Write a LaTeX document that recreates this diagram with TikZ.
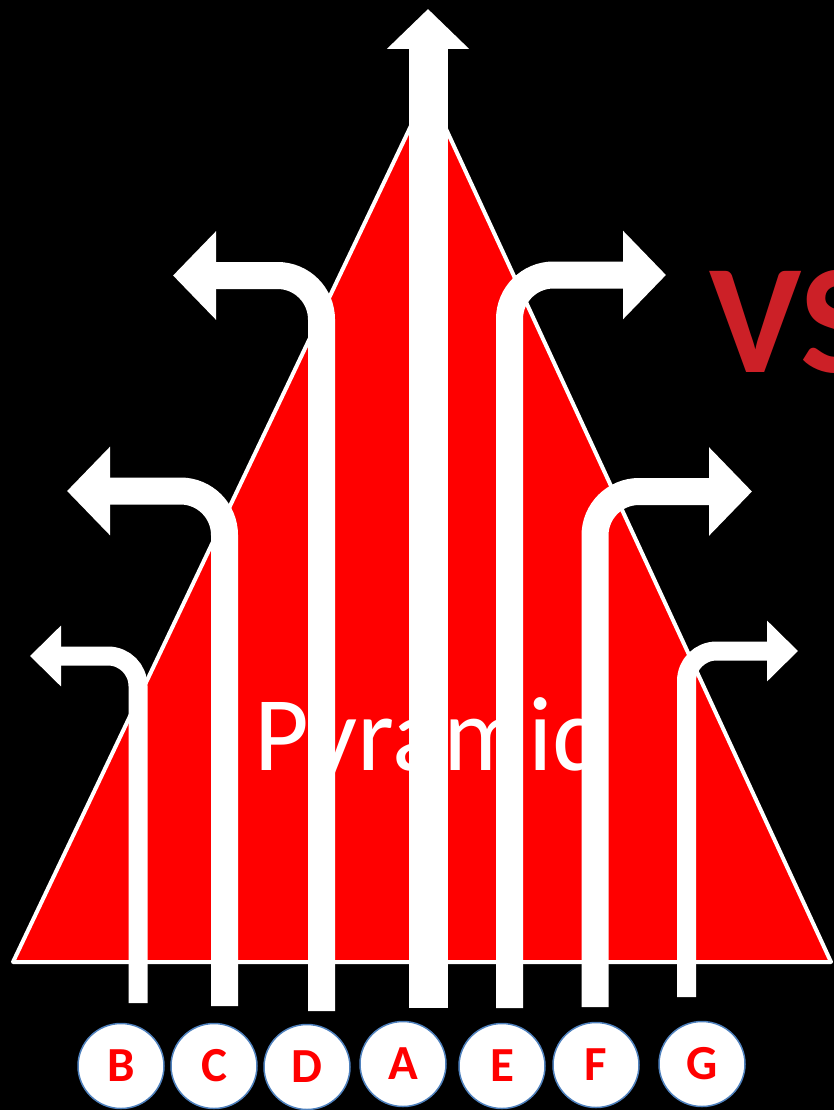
\documentclass[tikz,border=0pt]{standalone}
\usepackage{fontspec}
\setmainfont{Carlito}
\usetikzlibrary{arrows.meta, shapes.geometric}
\definecolor{pyrred}{RGB}{255,0,0}
\definecolor{vsred}{RGB}{204,32,39}
\definecolor{ringblue}{RGB}{79,129,189}
\tikzset{
  stream/.style={draw=white, line width=27pt, rounded corners=44pt,
    -{Triangle[length=43pt, width=86pt]}},
  thinstream/.style={draw=white, line width=19pt, rounded corners=30pt,
    -{Triangle[length=31pt, width=59pt]}},
  mainstream/.style={draw=white, line width=39pt,
    -{Triangle[length=40pt, width=80pt]}},
  badge/.style={ellipse, draw=ringblue, fill=white, line width=1.5pt,
    minimum width=86pt, minimum height=85pt, inner sep=0pt,
    font=\fontsize{49}{49}\selectfont\bfseries, text=pyrred}
}

\begin{document}
\begin{tikzpicture}[x=1pt, y=-1pt]

\useasboundingbox (0,0) rectangle (834,1110);
\fill[black] (0,0) rectangle (834,1110);

%--- PYRAMID ---
\coordinate (L) at (13,962);
\coordinate (T) at (428,90);
\coordinate (R) at (831,962);
\draw[fill=pyrred, draw=white, line width=4pt, line join=round] (L) -- (T) -- (R) -- cycle;
\node[anchor=base west, inner sep=0pt, text=white,
  font=\fontsize{106}{106}\selectfont] (word) at (254,770) {Pyramid};

%--- STREAMS ---
% feet of the bars
\coordinate (Bfoot) at (138,1003);
\coordinate (Cfoot) at (224.5,1006);
\coordinate (Dfoot) at (321.5,1011);
\coordinate (Afoot) at (428,1008);
\coordinate (Efoot) at (509.5,1008);
\coordinate (Ffoot) at (595,1007);
\coordinate (Gfoot) at (686.5,997);
% arrow tips
\coordinate (Btip) at (30,656);
\coordinate (Ctip) at (67,491);
\coordinate (Dtip) at (173,275.5);
\coordinate (Atip) at (428,9);
\coordinate (Etip) at (666,275);
\coordinate (Ftip) at (752,491.5);
\coordinate (Gtip) at (798,651);

\draw[mainstream] (Afoot) -- (Atip);
\foreach \s in {C,D,E,F} { \draw[stream] (\s foot) |- (\s tip); }
\foreach \s in {B,G} { \draw[thinstream] (\s foot) |- (\s tip); }

%--- LABELS ---
\foreach \s/\x/\y in {B/121/1066, C/214/1066, D/307/1067, A/403/1064,
                      E/502/1066, F/596/1065, G/702/1064} {
  \node[badge] (c\s) at (\x,\y) {\s};
}

% VS, cut by the right edge as in the original
\node[anchor=base west, inner sep=0pt, text=vsred,
  font=\fontsize{156}{156}\selectfont\bfseries] (vs) at (709,372) {VS};

\end{tikzpicture}
\end{document}
